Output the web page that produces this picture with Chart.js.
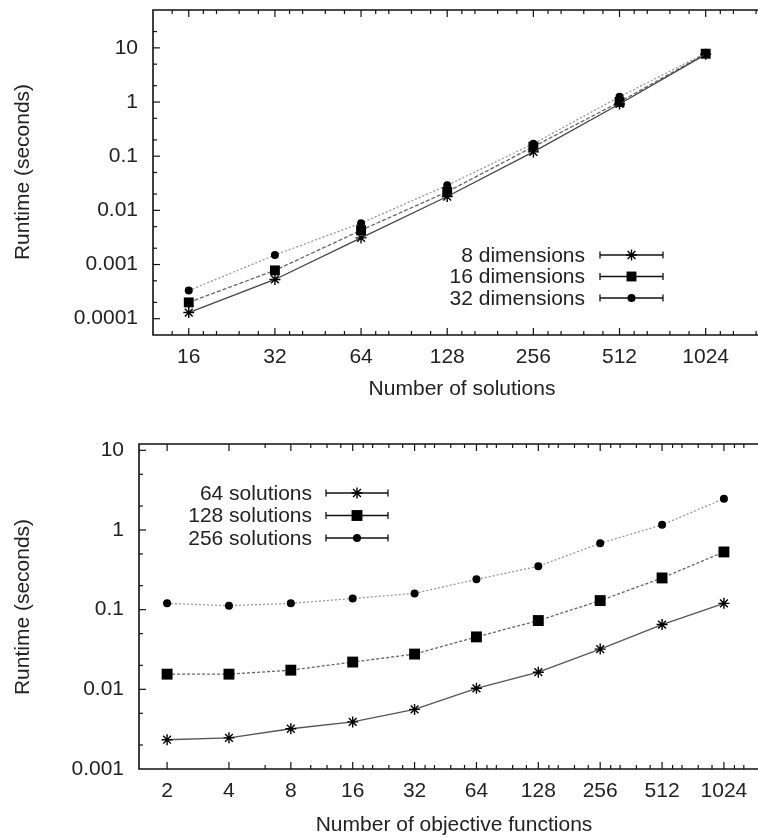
<!DOCTYPE html>
<html>
<head>
<meta charset="utf-8">
<script src="https://cdn.jsdelivr.net/npm/chart.js@4/dist/chart.umd.min.js"></script>
<style>
  html, body { margin: 0; padding: 0; background: #fff; overflow: hidden; }
  canvas { display: block; }
</style>
</head>
<body>
<canvas id="topChart" width="758" height="420"></canvas>
<canvas id="bottomChart" width="758" height="418"></canvas>
<script>
// top panel: runtime vs number of solutions
const solutionCounts = [16, 32, 64, 128, 256, 512, 1024];
const dims8  = [0.00013, 0.00053, 0.0031, 0.018, 0.12, 0.92, 7.6];
const dims16 = [0.0002, 0.00078, 0.0043, 0.022, 0.15, 1.0, 7.8];
const dims32 = [0.00033, 0.0015, 0.0058, 0.029, 0.17, 1.25, 8.0];
const topYTicks = [0.0001, 0.001, 0.01, 0.1, 1, 10];

// bottom panel: runtime vs number of objective functions
const objectiveCounts = [2, 4, 8, 16, 32, 64, 128, 256, 512, 1024];
const sol64  = [0.00233, 0.00246, 0.0032, 0.0039, 0.0056, 0.0103, 0.0164, 0.032, 0.065, 0.12];
const sol128 = [0.0155, 0.0155, 0.0174, 0.022, 0.0277, 0.0455, 0.073, 0.13, 0.25, 0.53];
const sol256 = [0.12, 0.112, 0.12, 0.138, 0.16, 0.24, 0.35, 0.68, 1.16, 2.47];
const bottomYTicks = [0.001, 0.01, 0.1, 1, 10];

const FONT = '"Liberation Sans", Arial, sans-serif';
const TEXT = '#222';
const FSIZE = 21;

function pts(xs, ys) {
  return xs.map((x, i) => ({x: x, y: ys[i]}));
}

function series(label, xs, ys, style, line) {
  const star = style === 'star';
  return {
    label: label,
    data: pts(xs, ys),
    borderColor: line.color,
    borderWidth: 1.3,
    borderDash: line.dash,
    pointStyle: style,
    pointRadius: style === 'rect' ? line.size * 1.4 : line.size,
    pointBackgroundColor: '#000',
    pointBorderColor: '#000',
    pointBorderWidth: star ? 1.4 : 0,
    tension: 0,
    fill: false
  };
}

function drawMarker(ctx, ds, x, y) {
  ctx.fillStyle = '#000';
  ctx.strokeStyle = '#000';
  ctx.lineWidth = ds.pointBorderWidth || 1;
  ctx.setLineDash([]);
  Chart.helpers.drawPoint(ctx, {
    pointStyle: ds.pointStyle,
    radius: ds.pointRadius,
    borderWidth: ds.pointBorderWidth,
    rotation: 0
  }, x, y);
}

// keep the plot box exactly where the axis sizes put it
function noPad(s) {
  s.paddingTop = 0; s.paddingBottom = 0; s.paddingLeft = 0; s.paddingRight = 0;
}

// gnuplot style frame, inward ticks, key and axis titles
const gnuFrame = {
  id: 'gnuFrame',
  afterDraw(chart, args, o) {
    const {ctx, chartArea: a, scales: {x, y}} = chart;
    ctx.save();
    ctx.strokeStyle = '#111';
    ctx.setLineDash([]);
    ctx.lineWidth = 1.6;
    ctx.beginPath();
    ctx.moveTo(a.right + 2, a.top);
    ctx.lineTo(a.left, a.top);
    ctx.lineTo(a.left, a.bottom);
    ctx.lineTo(a.right + 2, a.bottom);
    ctx.stroke();

    ctx.lineWidth = 1.2;
    const seg = (x1, y1, x2, y2) => {
      ctx.beginPath(); ctx.moveTo(x1, y1); ctx.lineTo(x2, y2); ctx.stroke();
    };
    const xMinor = [];
    for (let b = 1; b <= 2048; b *= 2) {
      [1.125, 1.25, 1.5, 1.75].forEach(f => {
        const v = b * f;
        if (v % 2 === 0 && v > x.min && v < x.max) xMinor.push(v);
      });
    }
    o.xTicks.forEach(v => {
      const p = x.getPixelForValue(v);
      seg(p, a.bottom, p, a.bottom - 7);
      seg(p, a.top, p, a.top + 7);
    });
    xMinor.forEach(v => {
      const p = x.getPixelForValue(v);
      seg(p, a.bottom, p, a.bottom - 4);
      seg(p, a.top, p, a.top + 4);
    });
    for (let d = 1e-6; d < 100; d *= 10) {
      [1, 2, 5].forEach(m => {
        const v = d * m;
        if (v <= y.min || v >= y.max) return;
        const p = y.getPixelForValue(v);
        seg(a.left, p, a.left + (m === 1 ? 7 : 4), p);
      });
    }

    // key
    ctx.font = FSIZE + 'px ' + FONT;
    ctx.textAlign = 'right';
    ctx.textBaseline = 'middle';
    const k = o.key;
    chart.data.datasets.forEach((ds, i) => {
      const ry = k.top + i * k.step;
      ctx.fillStyle = TEXT;
      ctx.fillText(ds.label, k.textRight, ry + 1);
      ctx.strokeStyle = '#111';
      ctx.lineWidth = 1.3;
      ctx.setLineDash([]);
      seg(k.lineStart, ry, k.lineEnd, ry);
      seg(k.lineStart, ry - 3.5, k.lineStart, ry + 3.5);
      seg(k.lineEnd, ry - 3.5, k.lineEnd, ry + 3.5);
      drawMarker(ctx, ds, (k.lineStart + k.lineEnd) / 2, ry);
    });

    // axis titles
    ctx.fillStyle = TEXT;
    ctx.textAlign = 'center';
    ctx.textBaseline = 'middle';
    ctx.fillText(o.xTitle, o.xTitlePos[0], o.xTitlePos[1]);
    ctx.translate(o.yTitlePos[0], o.yTitlePos[1]);
    ctx.rotate(-Math.PI / 2);
    ctx.fillText(o.yTitle, 0, 0);
    ctx.restore();
  }
};

function makeChart(id, datasets, opt) {
  return new Chart(document.getElementById(id), {
    type: 'line',
    data: {datasets: datasets},
    options: {
      responsive: false,
      animation: false,
      layout: {autoPadding: false, padding: {top: opt.padTop, left: 0, right: 0, bottom: 0}},
      plugins: {
        legend: {display: false},
        tooltip: {enabled: false},
        gnuFrame: opt.frame
      },
      scales: {
        x: {
          type: 'logarithmic',
          min: opt.xMin,
          max: opt.xMax,
          grid: {display: false, drawTicks: false},
          border: {display: false},
          afterBuildTicks: s => { s.ticks = opt.frame.xTicks.map(v => ({value: v})); },
          afterFit: s => { s.height = opt.xHeight; noPad(s); },
          ticks: {
            autoSkip: false, maxRotation: 0, padding: 10,
            color: TEXT, font: {family: FONT, size: FSIZE},
            callback: v => String(v)
          }
        },
        y: {
          type: 'logarithmic',
          min: opt.yMin,
          max: opt.yMax,
          grid: {display: false, drawTicks: false},
          border: {display: false},
          afterBuildTicks: s => { s.ticks = opt.yTicks.map(v => ({value: v})); },
          afterFit: s => { s.width = opt.yWidth; noPad(s); },
          ticks: {
            autoSkip: false, padding: 15,
            color: TEXT, font: {family: FONT, size: FSIZE},
            callback: v => String(v)
          }
        }
      }
    },
    plugins: [gnuFrame]
  });
}

makeChart('topChart', [
  series('8 dimensions', solutionCounts, dims8, 'star', {color: '#444', dash: [], size: 5.5}),
  series('16 dimensions', solutionCounts, dims16, 'rect', {color: '#666', dash: [4, 2], size: 5}),
  series('32 dimensions', solutionCounts, dims32, 'circle', {color: '#999', dash: [2, 2], size: 4})
], {
  padTop: 10, xHeight: 85, yWidth: 153,
  xMin: 12, xMax: 1560, yMin: 0.00005, yMax: 50,
  yTicks: topYTicks,
  frame: {
    xTicks: solutionCounts,
    key: {top: 255, step: 21.5, textRight: 585, lineStart: 600, lineEnd: 663},
    xTitle: 'Number of solutions', xTitlePos: [462, 389],
    yTitle: 'Runtime (seconds)', yTitlePos: [23, 172]
  }
});

makeChart('bottomChart', [
  series('64 solutions', objectiveCounts, sol64, 'star', {color: '#555', dash: [], size: 5.5}),
  series('128 solutions', objectiveCounts, sol128, 'rect', {color: '#666', dash: [3, 2], size: 5.5}),
  series('256 solutions', objectiveCounts, sol256, 'circle', {color: '#999', dash: [2, 2], size: 4})
], {
  padTop: 24, xHeight: 69, yWidth: 139,
  xMin: 1.46, xMax: 1500, yMin: 0.001, yMax: 12,
  yTicks: bottomYTicks,
  frame: {
    xTicks: objectiveCounts,
    key: {top: 73, step: 22.5, textRight: 312, lineStart: 326, lineEnd: 388},
    xTitle: 'Number of objective functions', xTitlePos: [454, 405],
    yTitle: 'Runtime (seconds)', yTitlePos: [23, 187]
  }
});
</script>
</body>
</html>
